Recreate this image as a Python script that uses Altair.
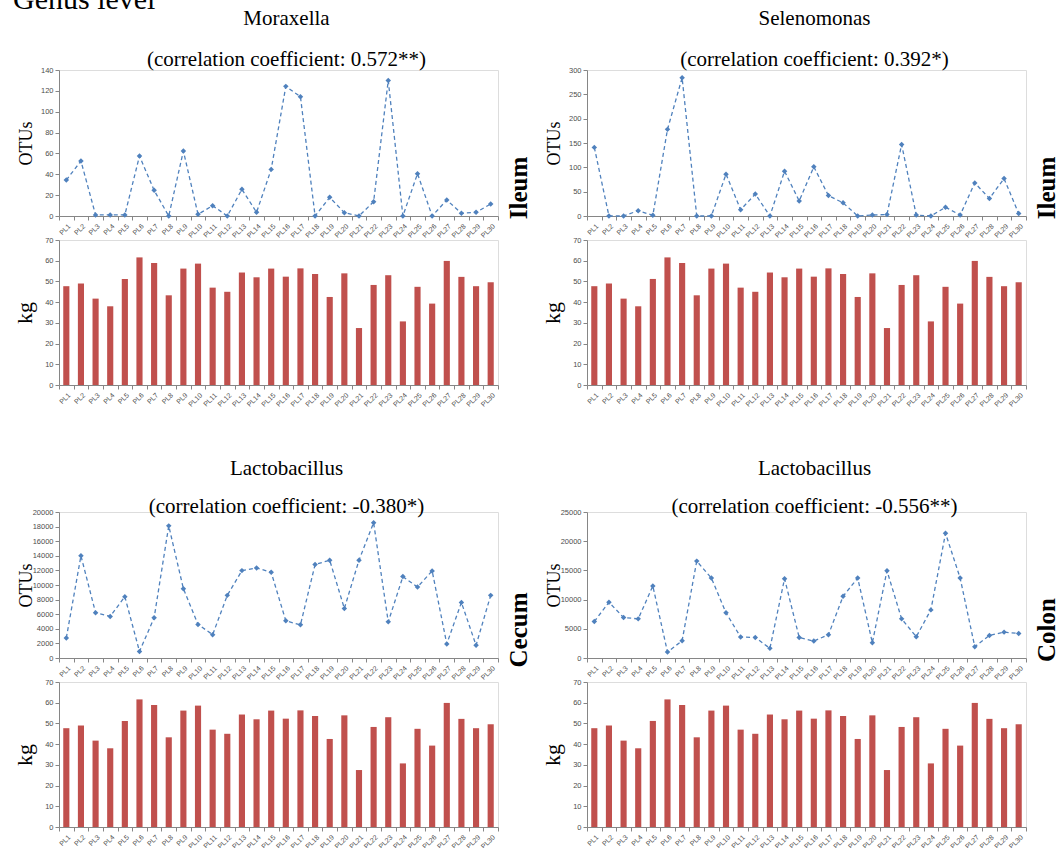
import altair as alt
import pandas as pd

samples = ["PL1", "PL2", "PL3", "PL4", "PL5", "PL6", "PL7", "PL8", "PL9", "PL10",
           "PL11", "PL12", "PL13", "PL14", "PL15", "PL16", "PL17", "PL18", "PL19", "PL20",
           "PL21", "PL22", "PL23", "PL24", "PL25", "PL26", "PL27", "PL28", "PL29", "PL30"]

weight_kg = [47.7, 49.0, 41.7, 38.0, 51.2, 61.6, 58.9, 43.3, 56.2, 58.6,
             47.0, 45.0, 54.3, 52.0, 56.2, 52.3, 56.3, 53.6, 42.5, 53.9,
             27.5, 48.3, 53.0, 30.7, 47.4, 39.3, 59.9, 52.2, 47.7, 49.6]

moraxella_ileum = [34.5, 52.7, 1, 1, 1, 57.5, 24.6, 0, 62.3, 1.6,
                   9.9, 0, 25.6, 3.5, 44.7, 124.3, 114.4, 0, 17.9, 3.2,
                   0, 13.7, 130, 0, 40.6, 0, 15.3, 2.6, 3.5, 11.5]

selenomonas_ileum = [141, 0, 0, 11, 1.4, 178, 284, 0, 0, 86,
                     13, 45, 0, 92, 31, 101, 42, 27, 0, 2,
                     3, 147, 2, 0, 18, 2, 68, 36, 77, 5]

lactobacillus_cecum = [2750, 14000, 6200, 5700, 8400, 900, 5500, 18100, 9500, 4600,
                       3200, 8580, 11970, 12340, 11740, 5090, 4540, 12800, 13390, 6790,
                       13390, 18530, 4950, 11150, 9720, 11930, 1930, 7610, 1740, 8580]

lactobacillus_colon = [6250, 9550, 6930, 6700, 12330, 1020, 2960, 16590, 13690, 7730,
                       3580, 3520, 1650, 13580, 3520, 2900, 3980, 10570, 13690, 2610,
                       14940, 6700, 3640, 8240, 21360, 13690, 1930, 3860, 4430, 4200]

ticks_moraxella = [0, 20, 40, 60, 80, 100, 120, 140]
ticks_selenomonas = [0, 50, 100, 150, 200, 250, 300]
ticks_cecum = [0, 2000, 4000, 6000, 8000, 10000, 12000, 14000, 16000, 18000, 20000]
ticks_colon = [0, 5000, 10000, 15000, 20000, 25000]
ticks_kg = [0, 10, 20, 30, 40, 50, 60, 70]

BLUE = "#4F81BD"
RED = "#C0504D"
GRAY = "#868686"
LBL = "#4d4d4d"
SERIF = "Liberation Serif"
SANS = "Liberation Sans"
W = 439
HL = 146
HB = 145


def x_axis():
    return alt.Axis(title=None, labelAngle=-45, labelFontSize=7, labelFont=SANS,
                    labelColor=LBL, tickBand="extent", tickColor=GRAY, domainColor=GRAY,
                    tickSize=4, labelPadding=2)


def y_axis(values, title, h, size, tx):
    return alt.Axis(values=values, title=title, grid=False, format="d", labelFontSize=7.5,
                    labelFont=SANS, labelColor=LBL, tickColor=GRAY, domainColor=GRAY,
                    tickSize=4, labelPadding=2, titleFont=SERIF, titleFontSize=size,
                    titleFontWeight="normal", titleColor="black", titleAngle=270,
                    titleX=tx, titleY=h / 2, titleAlign="center", titleBaseline="middle")


def line_panel(vals, ticks, genus, corr, organ, offset, lh):
    df = pd.DataFrame({"sample": samples, "otus": vals})
    base = alt.Chart(df).encode(
        x=alt.X("sample:N", sort=samples,
                scale=alt.Scale(type="band", paddingInner=0, paddingOuter=0), axis=x_axis()),
        y=alt.Y("otus:Q", scale=alt.Scale(domain=[0, ticks[-1]], nice=False),
                axis=y_axis(ticks, "OTUs", HL, 18, -33)),
    )
    line = base.mark_line(color=BLUE, strokeDash=[4, 3], strokeWidth=1.3)
    pts = base.mark_point(shape="diamond", filled=True, size=30, color=BLUE, opacity=1)
    side = alt.Chart(pd.DataFrame({"t": [organ]})).mark_text(
        angle=270, font=SERIF, fontSize=25, fontWeight="bold", color="black",
        align="center", baseline="middle"
    ).encode(text="t:N", x=alt.value(W + 21), y=alt.value(118))
    return alt.layer(line, pts, side).properties(
        width=W, height=HL,
        title=alt.TitleParams(text=[genus, corr], font=SERIF, fontSize=21,
                              fontWeight="normal", color="black", lineHeight=lh,
                              offset=offset, dx=8, anchor="middle"),
    )


def bar_panel(genus_level=False):
    df = pd.DataFrame({"sample": samples, "kg": weight_kg})
    bars = alt.Chart(df).mark_bar(color=RED, width=alt.RelativeBandSize(0.42)).encode(
        x=alt.X("sample:N", sort=samples,
                scale=alt.Scale(type="band", paddingInner=0, paddingOuter=0), axis=x_axis()),
        y=alt.Y("kg:Q", scale=alt.Scale(domain=[0, 70], nice=False),
                axis=y_axis(ticks_kg, "kg", HB, 22, -35)),
    )
    layers = [bars]
    if genus_level:
        g = alt.Chart(pd.DataFrame({"t": ["Genus level"]})).mark_text(
            font=SERIF, fontSize=30, color="black", align="left", baseline="alphabetic"
        ).encode(text="t:N", x=alt.value(-46), y=alt.value(-231))
        layers.append(g)
    return alt.layer(*layers).properties(width=W, height=HB)


def spacer():
    return alt.Chart(pd.DataFrame({"t": [""]})).mark_text(opacity=0).encode(
        text="t:N", x=alt.value(0), y=alt.value(0)
    ).properties(width=W, height=79, view=alt.ViewBackground(stroke="transparent", strokeWidth=0))


panels = [
    line_panel(moraxella_ileum, ticks_moraxella, "Moraxella",
               "(correlation coefficient: 0.572**)", "Ileum", -4, 41),
    line_panel(selenomonas_ileum, ticks_selenomonas, "Selenomonas",
               "(correlation coefficient: 0.392*)", "Ileum", -4, 41),
    bar_panel(True), bar_panel(),
    spacer(), spacer(),
    line_panel(lactobacillus_cecum, ticks_cecum, "Lactobacillus",
               "(correlation coefficient: -0.380*)", "Cecum", -9, 38),
    line_panel(lactobacillus_colon, ticks_colon, "Lactobacillus",
               "(correlation coefficient: -0.556**)", "Colon", -9, 38),
    bar_panel(), bar_panel(),
]

chart = alt.concat(*panels, columns=2, spacing={"row": 24, "column": 89},
                   bounds="flush").properties(
    autosize=alt.AutoSizeParams(type="none"),
    padding={"left": 59, "top": 70, "right": 1005, "bottom": 778},
).configure_view(strokeWidth=0, stroke="transparent").configure(background="white")

chart.save("out.html", embed_options={"renderer": "svg", "actions": False})
